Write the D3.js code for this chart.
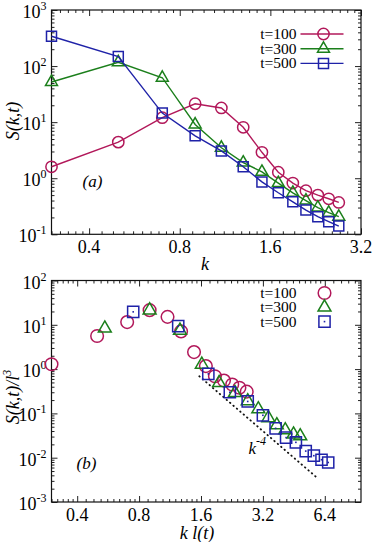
<!DOCTYPE html>
<html>
<head>
<meta charset="utf-8">
<script src="https://cdn.jsdelivr.net/npm/d3@7"></script>
<style>
body { margin: 0; background: #fff; }
</style>
</head>
<body>
<div id="chart"></div>
<script>
// panel (a): S(k,t) against k
const kVals = [0.3, 0.5, 0.7, 0.9, 1.1, 1.3, 1.5, 1.7, 1.9, 2.1, 2.3, 2.5, 2.7]
const s100 = [1.6, 4.4, 12, 21.3, 17.9, 8.1, 2.9, 1.28, 0.82, 0.6, 0.5, 0.43, 0.37]
const s300 = [52, 117, 62, 9.1, 3.5, 1.9, 1.3, 0.82, 0.55, 0.4, 0.3, 0.243, 0.206]
const s500 = [340, 148, 14.5, 5.7, 3.07, 1.6, 0.86, 0.55, 0.38, 0.27, 0.206, 0.168, 0.14]

// panel (b): S(k,t)/l^3 against k l(t)
const x100 = [0.3, 0.5, 0.7, 0.9, 1.1, 1.28, 1.48, 1.69, 1.87, 2.07, 2.27, 2.46, 2.67]
const y100 = [1.29, 5.6, 11.5, 21.4, 15.1, 7.1, 2.42, 1.17, 0.69, 0.55, 0.45, 0.38, 0.31]
const x300 = [0.545, 0.9, 1.265, 1.615, 1.96, 2.34, 2.7, 3.04, 3.4, 3.74, 4.11, 4.51, 4.86]
const y300 = [8.3, 21.4, 7.45, 1.27, 0.49, 0.291, 0.189, 0.125, 0.079, 0.0544, 0.042, 0.0336, 0.0307]
const x500 = [0.749, 1.24, 1.737, 2.21, 2.7, 3.2, 3.69, 4.15, 4.63, 5.17, 5.66, 6.17, 6.65]
const y500 = [19.6, 9.3, 0.78, 0.30, 0.186, 0.0906, 0.046, 0.0284, 0.0222, 0.0141, 0.0111, 0.009, 0.0078]

// k^-4 guide line end points
const guideX = [1.57, 5.8]
const guideY = [0.69, 0.0037]

const seriesNames = ["t=100", "t=300", "t=500"]
const xTicksA = [0.4, 0.8, 1.6, 3.2]
const yTicksA = [0.1, 1, 10, 100, 1000]
const xTicksB = [0.4, 0.8, 1.6, 3.2, 6.4]
const yTicksB = [0.001, 0.01, 0.1, 1, 10, 100]

const colors = ["#b2185a", "#1b7f1b", "#1f22a8"]
const shapes = [d3.symbolCircle, d3.symbolTriangle, d3.symbolSquare]
const sizes = [100, 62, 100]

const W = 374, H = 542
const svg = d3.select("#chart").append("svg")
    .attr("width", W)
    .attr("height", H)
    .attr("font-family", "'Liberation Serif', 'Times New Roman', 'DejaVu Serif', serif")

const left = 51.5, right = 361

function minorX(domain) {
    // linear subdivisions between doublings
    const out = []
    for (let a = 0.1; a < domain[1]; a *= 2) {
        for (let i = 1; i < 10; i++) {
            const v = a + i * a / 10
            if (v > domain[0] && v < domain[1]) out.push(v)
        }
    }
    return out
}

function minorY(domain) {
    const out = []
    for (let e = Math.round(Math.log10(domain[0])); e < Math.log10(domain[1]); e++) {
        for (let m = 2; m < 10; m++) out.push(m * Math.pow(10, e))
    }
    return out
}

function drawAxes(g, x, y, xTicks, yTicks, h, w) {
    const maj = 6, mn = 3
    // major + minor ticks on all four sides, pointing inward
    const xmin = minorX(x.domain())
    const ymin = minorY(y.domain())
    const sides = [
        [d3.axisBottom(x), `translate(0,${h})`, xTicks, xmin],
        [d3.axisTop(x), `translate(0,0)`, xTicks, xmin],
        [d3.axisLeft(y), `translate(0,0)`, yTicks, ymin],
        [d3.axisRight(y), `translate(${w},0)`, yTicks, ymin]
    ]
    sides.forEach(([ax, tr, major, minor]) => {
        g.append("g").attr("transform", tr)
            .call(ax.tickValues(major).tickSize(-maj).tickFormat(""))
            .call(s => s.select(".domain").remove())
            .selectAll("line").attr("stroke", "#222")
        g.append("g").attr("transform", tr)
            .call(ax.tickValues(minor).tickSize(-mn).tickFormat(""))
            .call(s => s.select(".domain").remove())
            .selectAll("line").attr("stroke", "#222")
    })

    g.append("rect")
        .attr("width", w).attr("height", h)
        .attr("fill", "none").attr("stroke", "#111").attr("stroke-width", 1.2)

    // tick labels
    g.selectAll(".xlab").data(xTicks).enter().append("text")
        .attr("x", d => x(d))
        .attr("y", h + 19)
        .attr("text-anchor", "middle")
        .attr("font-size", "18px")
        .text(d => d.toFixed(1))

    yTicks.forEach(d => {
        const t = g.append("text")
            .attr("x", -5)
            .attr("y", y(d) + 8)
            .attr("text-anchor", "end")
            .attr("font-size", "18px")
        t.append("tspan").text("10")
        t.append("tspan").attr("dy", -8).attr("font-size", "12px").text(Math.round(Math.log10(d)))
    })
}

function marker(g, cx, cy, i, sz) {
    g.append("path")
        .attr("transform", `translate(${cx},${cy})`)
        .attr("d", d3.symbol(shapes[i], sz || sizes[i])())
        .attr("fill", "none")
        .attr("stroke", colors[i])
        .attr("stroke-width", 1.5)
}

// ---------- panel (a) ----------
const topA = 10, botA = 234.3
const hA = botA - topA, wA = right - left
const gA = svg.append("g").attr("transform", `translate(${left},${topA})`)

const xA = d3.scaleLog().base(2).domain([0.3, 3.2]).range([0, wA])
const yA = d3.scaleLog().domain([0.1, 1000]).range([hA, 0])

drawAxes(gA, xA, yA, xTicksA, yTicksA, hA, wA)

const seriesA = [s100, s300, s500]
const lineA = d3.line().x(d => xA(d[0])).y(d => yA(d[1]))
seriesA.forEach((s, i) => {
    const pts = kVals.map((k, j) => [k, s[j]])
    gA.append("path")
        .attr("d", lineA(pts))
        .attr("fill", "none")
        .attr("stroke", colors[i])
        .attr("stroke-width", 1.4)
    pts.forEach(p => marker(gA, xA(p[0]), yA(p[1]), i))
})

// legend (a)
seriesNames.forEach((name, i) => {
    const ly = 24 + i * 14.7
    gA.append("text")
        .attr("x", 245).attr("y", ly + 5)
        .attr("text-anchor", "end")
        .attr("font-size", "15.5px")
        .text(name)
    gA.append("line")
        .attr("x1", 249).attr("x2", 292)
        .attr("y1", ly).attr("y2", ly)
        .attr("stroke", colors[i]).attr("stroke-width", 1.4)
    marker(gA, 272, ly, i)
})

gA.append("text")
    .attr("x", 31).attr("y", 177)
    .attr("font-size", "17px").attr("font-style", "italic")
    .text("(a)")

svg.append("text")
    .attr("x", 205).attr("y", 270)
    .attr("text-anchor", "middle")
    .attr("font-size", "18px").attr("font-style", "italic")
    .text("k")

svg.append("text")
    .attr("transform", "translate(19,121) rotate(-90)")
    .attr("text-anchor", "middle")
    .attr("font-size", "18px").attr("font-style", "italic")
    .text("S(k,t)")

// ---------- panel (b) ----------
const topB = 280.5, botB = 502
const hB = botB - topB, wB = right - left
const gB = svg.append("g").attr("transform", `translate(${left},${topB})`)

const xB = d3.scaleLog().base(2).domain([0.3, 9.6]).range([0, wB])
const yB = d3.scaleLog().domain([0.001, 100]).range([hB, 0])

drawAxes(gB, xB, yB, xTicksB, yTicksB, hB, wB)

// k^-4 dotted guide
gB.append("path")
    .attr("d", d3.line().x(d => xB(d[0])).y(d => yB(d[1]))(guideX.map((v, j) => [v, guideY[j]])))
    .attr("fill", "none")
    .attr("stroke", "#111")
    .attr("stroke-width", 1.8)
    .attr("stroke-dasharray", "0.5,4")
    .attr("stroke-linecap", "round")

const seriesB = [[x100, y100], [x300, y300], [x500, y500]]
seriesB.forEach(([xs, ys], i) => {
    xs.forEach((v, j) => {
        marker(gB, xB(v), yB(ys[j]), i, i === 1 ? 72 : 125)
        if (i === 2) {
            gB.append("rect")
                .attr("x", xB(v) - 0.8).attr("y", yB(ys[j]) - 0.8)
                .attr("width", 1.6).attr("height", 1.6)
                .attr("fill", colors[i])
        }
    })
})

// legend (b)
seriesNames.forEach((name, i) => {
    const ly = 12.5 + i * 14.3
    gB.append("text")
        .attr("x", 245).attr("y", ly + 5)
        .attr("text-anchor", "end")
        .attr("font-size", "15.5px")
        .text(name)
    marker(gB, 273, ly, i, i === 1 ? 72 : 125)
    if (i === 2) {
        gB.append("rect").attr("x", 272.2).attr("y", ly - 0.8)
            .attr("width", 1.6).attr("height", 1.6).attr("fill", colors[i])
    }
})

const kl = gB.append("text")
    .attr("x", 197).attr("y", 173)
    .attr("font-size", "17px").attr("font-style", "italic")
kl.append("tspan").text("k")
kl.append("tspan").attr("dy", -9).attr("font-size", "12px").text("-4")

gB.append("text")
    .attr("x", 25).attr("y", 188.5)
    .attr("font-size", "17px").attr("font-style", "italic")
    .text("(b)")

svg.append("text")
    .attr("x", 197).attr("y", 539)
    .attr("text-anchor", "middle")
    .attr("font-size", "18px").attr("font-style", "italic")
    .text("k l(t)")

const yl = svg.append("text")
    .attr("transform", "translate(19,397) rotate(-90)")
    .attr("text-anchor", "middle")
    .attr("font-size", "18px").attr("font-style", "italic")
yl.append("tspan").text("S(k,t)/l")
yl.append("tspan").attr("dy", -8).attr("font-size", "12px").text("3")
</script>
</body>
</html>
